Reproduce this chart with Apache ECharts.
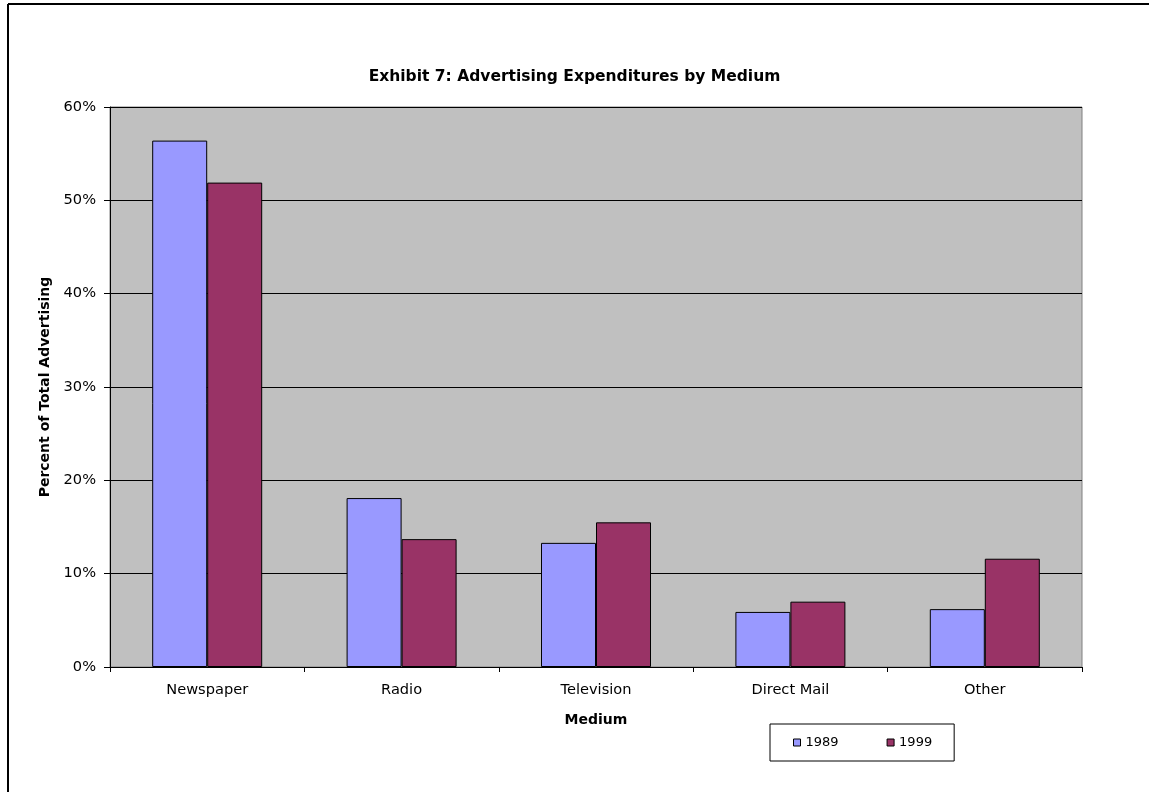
<!DOCTYPE html>
<html>
<head>
<meta charset="utf-8">
<script src="https://cdn.jsdelivr.net/npm/echarts@6/dist/echarts.min.js"></script>
<style>
  html, body { margin: 0; padding: 0; background: #fff; }
  #chart { width: 1149px; height: 792px; }
</style>
</head>
<body>
<div id="chart"></div>
<script>
// Share of total advertising spend by medium, in percent
const categories = ['Newspaper', 'Radio', 'Television', 'Direct Mail', 'Other'];
const seriesNames = ['1989', '1999'];
const values1989 = [56.4, 18.1, 13.3, 5.9, 6.2];
const values1999 = [51.9, 13.7, 15.5, 7.0, 11.6];
const yTicks = { min: 0, max: 60, interval: 10 };

const FONT = '"DejaVu Sans", "Liberation Sans", Arial, sans-serif';
const chart = echarts.init(document.getElementById('chart'), null, { renderer: 'canvas' });

chart.setOption({
  backgroundColor: '#ffffff',
  animation: false,
  title: {
    text: 'Exhibit 7: Advertising Expenditures by Medium',
    left: 'center',
    top: 64,
    textStyle: { fontFamily: FONT, fontSize: 15.5, fontWeight: 'bold', color: '#000' }
  },
  legend: {
    data: seriesNames,
    left: 770,
    top: 724,
    orient: 'horizontal',
    icon: 'rect',
    itemWidth: 7,
    itemHeight: 7,
    itemGap: 48,
    padding: [12, 22, 12, 23],
    borderColor: '#000',
    borderWidth: 1,
    backgroundColor: '#fff',
    textStyle: { fontFamily: FONT, fontSize: 13, color: '#000' },
    itemStyle: { borderColor: '#000', borderWidth: 1 }
  },
  grid: {
    left: 110,
    top: 107,
    width: 972,
    height: 560,
    show: true,
    backgroundColor: '#C0C0C0',
    borderColor: '#808080',
    borderWidth: 1
  },
  xAxis: {
    type: 'category',
    data: categories,
    boundaryGap: true,
    name: 'Medium',
    nameLocation: 'middle',
    nameGap: 46,
    nameTextStyle: { fontFamily: FONT, fontSize: 14, fontWeight: 'bold', color: '#000' },
    axisLine: { lineStyle: { color: '#000', width: 1 } },
    axisTick: { show: true, alignWithLabel: false, length: 5, lineStyle: { color: '#000' } },
    axisLabel: { fontFamily: FONT, fontSize: 14.6, color: '#000', margin: 16 },
    splitLine: { show: false }
  },
  yAxis: {
    type: 'value',
    min: yTicks.min,
    max: yTicks.max,
    interval: yTicks.interval,
    name: 'Percent of Total Advertising',
    nameLocation: 'middle',
    nameGap: 57,
    nameTextStyle: { fontFamily: FONT, fontSize: 14, fontWeight: 'bold', color: '#000' },
    axisLine: { show: true, lineStyle: { color: '#000', width: 1 } },
    axisTick: { show: true, length: 6, lineStyle: { color: '#000' } },
    axisLabel: { fontFamily: FONT, fontSize: 14.6, color: '#000', margin: 14, formatter: '{value}%' },
    splitLine: { show: true, lineStyle: { color: '#000', width: 1 } }
  },
  series: [
    {
      name: seriesNames[0],
      type: 'bar',
      data: values1989,
      barWidth: 55,
      barGap: '0%',
      itemStyle: { color: '#9999FF', borderColor: '#000', borderWidth: 1 }
    },
    {
      name: seriesNames[1],
      type: 'bar',
      data: values1999,
      barWidth: 55,
      barGap: '0%',
      itemStyle: { color: '#993366', borderColor: '#000', borderWidth: 1 }
    }
  ],
  graphic: [
    { type: 'line', shape: { x1: 8, y1: 4, x2: 1149, y2: 4 }, style: { stroke: '#000', lineWidth: 2 } },
    { type: 'line', shape: { x1: 8, y1: 4, x2: 8, y2: 792 }, style: { stroke: '#000', lineWidth: 2 } }
  ]
});
</script>
</body>
</html>
